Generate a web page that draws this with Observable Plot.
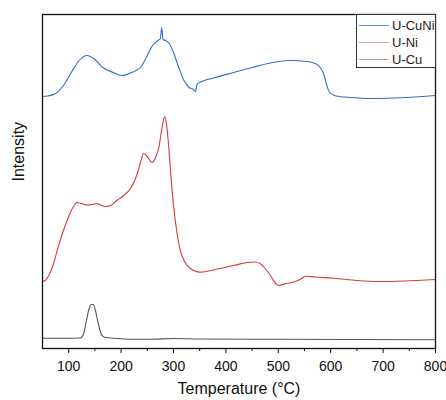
<!DOCTYPE html>
<html><head><meta charset="utf-8">
<script src="https://cdn.jsdelivr.net/npm/d3@7"></script>
<script src="https://cdn.jsdelivr.net/npm/@observablehq/plot@0.6"></script>
<style>
body{margin:0;background:#fff;font-family:"Liberation Sans",Arial,sans-serif;}
#wrap{position:relative;width:446px;height:400px;}
#legend{position:absolute;left:356px;top:14px;width:78px;height:52px;border:1px solid #333;background:#fff;font-size:13px;color:#222;overflow:hidden;}
.row{position:absolute;left:0;height:16px;display:flex;align-items:center;white-space:nowrap;}
.sw{width:30px;height:0;border-top:1.2px solid;margin-left:2px;margin-right:3px;}
</style></head>
<body><div id="wrap"><div id="legend"></div></div>
<script>
const seriesNames = ["U-CuNi", "U-Ni", "U-Cu"];
const seriesColors = ["#2f6fc6", "#d8393b", "#555555"];
const legendColors = ["#5e93d3", "#e3a3a3", "#aaaaaa"];

const cuniT = [50,60,75,90,105,120,135,150,165,185,202,220,237,250,260,270,275,277.5,280,285,292,300,310,320,330,338,342,345,350,380,415,450,480,520,555,570,580,587,592,598,610,640,670,720,800];
const cuniI = [252,252.5,255,263,276,288,293,289,281,276,273,276,281,293,303,308,310,321,309,308,305,296,281,268,261,259,257,264,266,271,276,281,285,288,287,285,281,274,264,256,252.5,251,250,250.5,253];

const niT = [50,55,62,70,78,88,97,107,116,125,135,145,154,162,170,180,192,205,218,231,238,243,250,259,265,272,278,283,287,291,295,300,306,313,320,330,351,380,415,440,455,465,475,485,495,501,515,530,545,552,570,606,650,689,740,800];
const niI = [67,68,73,83,98,115,128,140,146,145,143.5,144,145,143,142,143,148,153,160,175,188,195,192,186,190,201,220,232,223,201,173,143,118,98,88,81,76.3,79,83,86,86.5,85,80,73,65,63,65,66.5,70,72.3,71.5,70.3,68,67,67.5,69];

const cuT = [50,100,122,128,133,138,143,147,151,156,161,167,180,218,260,300,350,500,800];
const cuI = [10.3,10.2,10.5,14,26,38,44,44,38,26,16,11.5,10.5,9.3,9.2,10,9.5,9.2,8.7];

const majorTicks = [100,200,300,400,500,600,700,800];
const minorTicks = [150,250,350,450,550,650,750];

const rows = [];
[[cuniT,cuniI],[niT,niI],[cuT,cuI]].forEach(([T,I],k)=>{
  T.forEach((t,i)=>rows.push({series: seriesNames[k], t, v: I[i]}));
});

const chart = Plot.plot({
  width: 446, height: 400,
  marginLeft: 42, marginRight: 11, marginTop: 14, marginBottom: 52,
  style: {fontFamily: '"Liberation Sans", Arial, sans-serif', background: "#fff"},
  x: {domain: [50, 800]},
  y: {domain: [0, 334]},
  color: {domain: seriesNames, range: seriesColors},
  marks: [
    Plot.line(rows, {x: "t", y: "v", z: "series", stroke: "series", strokeWidth: 1.1, curve: "monotone-x"}),
    Plot.axisX({ticks: majorTicks, tickSize: 5, tickPadding: 8, fontSize: 14, fill: "#111", stroke: "#111", label: null}),
    Plot.axisX({ticks: minorTicks, tickSize: 3, text: null, stroke: "#111", label: null}),
    Plot.axisY({ticks: [], label: null}),
    Plot.text(["Temperature (°C)"], {frameAnchor: "bottom", dy: 45, fontSize: 16, fill: "#111"}),
    Plot.text(["Intensity"], {frameAnchor: "left", dx: -24, rotate: -90, fontSize: 16, fill: "#111"}),
    Plot.frame({stroke: "#111", strokeWidth: 1.3})
  ]
});
document.getElementById("wrap").prepend(chart);

const lg = document.getElementById("legend");
seriesNames.forEach((n,i)=>{
  const r = document.createElement("div");
  r.className = "row";
  r.style.top = (2 + i*17) + "px";
  r.innerHTML = `<span class="sw" style="border-color:${legendColors[i]}"></span><span>${n}</span>`;
  lg.appendChild(r);
});
</script></body></html>
